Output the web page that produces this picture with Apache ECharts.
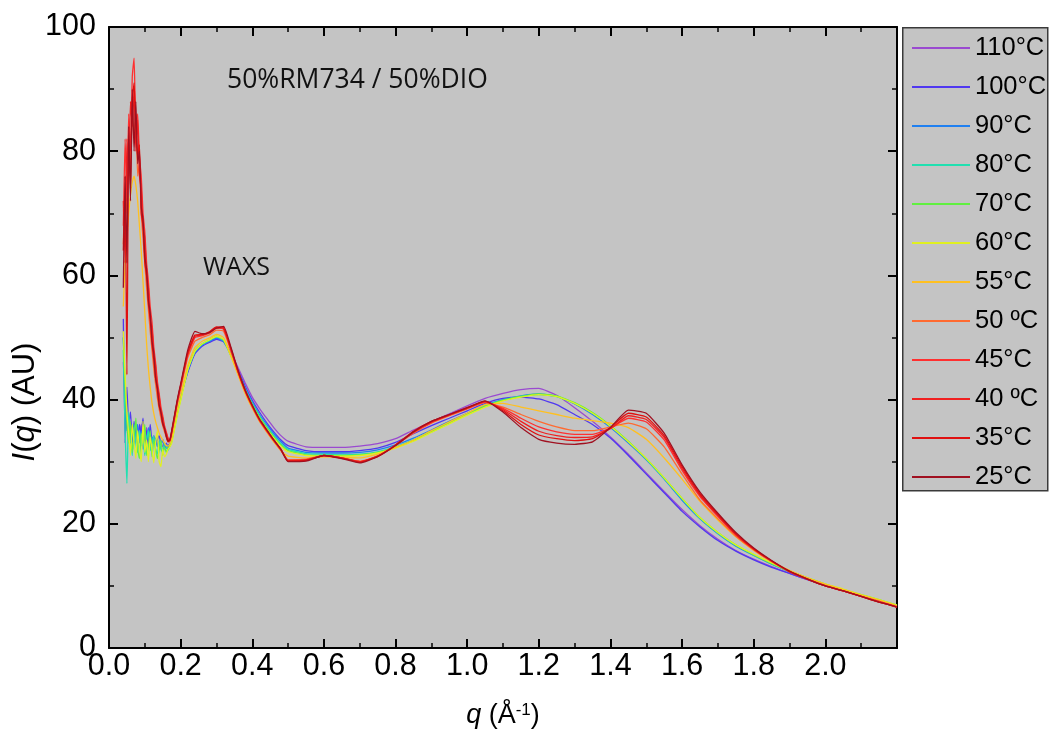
<!DOCTYPE html>
<html><head><meta charset="utf-8">
<script src="https://cdn.jsdelivr.net/npm/echarts@6/dist/echarts.min.js"></script>
<style>html,body{margin:0;padding:0;background:#fff}#c{width:1052px;height:738px}</style>
</head><body><div id="c"></div>
<script>
// q grid (Å^-1)
const Q = [0.040,0.045,0.050,0.055,0.060,0.065,0.070,0.075,0.080,0.085,0.090,0.095,0.100,0.105,0.110,0.115,0.120,0.125,0.130,0.135,0.140,0.145,0.150,0.155,0.160,0.165,0.170,0.175,0.180,0.185,0.190,0.195,0.200,
  0.22,0.24,0.26,0.28,0.30,0.32,0.34,0.36,0.38,0.40,0.42,0.44,0.46,0.48,0.50,
  0.55,0.60,0.65,0.70,0.75,0.80,0.85,0.90,0.95,1.00,1.05,1.10,1.15,1.20,1.25,1.30,1.35,1.40,1.45,1.50,1.55,1.60,1.65,1.70,1.75,1.80,1.85,1.90,1.95,2.00,2.05,2.10,2.15,2.20];

const TEMPS = ['110°C','100°C','90°C','80°C','70°C','60°C','55°C','50 ºC','45°C','40 ºC','35°C','25°C'];

const I110 = [46,40,37,35.5,36.5,34,35,33.5,35.5,34,36,33,34.5,35.5,33,34,33,34.2,33.5,33,32.6,33.2,32.4,32.8,32.2,32.5,33,34,35.4,36.8,38.2,39.5,40.8,
  44.6,47.6,48.8,49.3,49.8,49.5,47.6,45.2,42.7,40.4,38.6,37,35.5,34.2,33.3,
  32.4,32.3,32.3,32.5,32.9,33.7,35.1,36.4,37.7,39.0,40.2,41.0,41.6,41.8,40.7,38.7,36.5,34.0,31.2,28.2,25.2,22.3,19.7,17.5,15.7,14.3,13.1,12.0,11.0,10.1,9.3,8.4,7.6,6.8];
const I100 = [53,33,42,36,38,33,36.5,34,32,36,34.5,37,33,35,32.5,36,33.5,34,32.8,33.5,34.2,33,33.6,32.5,33,32.4,32.8,33.8,35.2,36.6,38,39.3,40.5,
  44.4,47.4,48.6,49.2,49.7,49.3,47.3,44.8,42.2,39.9,38,36.3,34.8,33.5,32.6,
  31.8,31.6,31.6,31.8,32.2,33.1,34.5,35.8,37,38.2,39.4,40.2,40.4,40.1,39.2,37.6,36,33.8,31.0,28.0,25.0,22.0,19.5,17.3,15.6,14.2,13.0,12.0,11.0,10.1,9.3,8.4,7.6,6.7];
const I90 = [50,40,35,37,33,35.5,32.5,34.5,36,33,35,32,34.8,33.5,35.5,32.6,34,33,33.8,32.4,33.4,32.7,33.5,32.4,32.2,32.6,32.9,33.6,35,36.5,37.9,39.2,40.4,
  44.6,47.6,48.8,49.4,49.9,49.4,47.2,44.6,41.9,39.6,37.6,36,34.5,33.2,32.2,
  31.5,31.4,31.4,31.5,31.9,32.7,33.8,35.1,36.5,37.8,39.1,40.0,40.6,40.9,40.5,39.3,37.6,35.5,33.0,30.3,27.2,23.8,20.8,18.4,16.4,14.9,13.5,12.3,11.2,10.2,9.4,8.5,7.7,6.8];
const I80 = [48,35,26.5,38,34,31,36,33,31.5,35,32.5,34,31,33.5,35,31.8,33,34.2,32,31.2,33.4,32,31.5,33,32.5,31.8,32.6,33.4,34.8,36.3,37.7,39,40.2,
  44.8,47.7,48.9,49.5,50.1,49.5,47.2,44.5,41.7,39.4,37.4,35.7,34.2,32.9,32.0,
  31.3,31.2,31.1,31.2,31.6,32.4,33.5,34.9,36.3,37.7,39.0,39.9,40.5,40.8,40.5,39.4,37.8,35.7,33.2,30.4,27.3,24.0,20.9,18.5,16.5,15.0,13.6,12.3,11.2,10.2,9.4,8.5,7.7,6.8];
const I70 = [50,42,36,33,36.5,31.5,34,37,32,30.5,34.5,33,36,31,32.5,35,30.8,33.5,32,30.5,31.8,33.5,31,32.4,31.5,32.2,32.5,33.2,34.6,36,37.5,38.8,40,
  45.0,47.9,49.0,49.6,50.2,49.6,47.1,44.4,41.6,39.2,37.2,35.5,34.0,32.7,31.8,
  31.1,31.0,31.0,31.1,31.5,32.3,33.4,34.8,36.2,37.6,38.9,39.9,40.5,40.9,40.6,39.5,37.9,35.8,33.3,30.5,27.4,24.1,21.0,18.6,16.6,15.0,13.6,12.4,11.3,10.3,9.4,8.6,7.8,6.9];
const I60 = [51,44,38,34.5,31,36,33,30.5,35,32,30,36.5,31.5,33.5,30,34,32,29.8,33,35,30,29.2,32,30.8,31.2,32,32.4,33,34.4,35.8,37.3,38.6,39.8,
  44.8,47.8,49.0,49.6,50.2,49.7,47.0,44.2,41.4,39.0,37.0,35.3,33.8,32.5,31.6,
  31.0,30.9,30.9,31.0,31.4,32.2,33.3,34.7,36.1,37.5,38.8,39.8,40.4,40.8,40.5,39.4,37.8,35.7,33.2,30.5,27.4,24.1,21.0,18.6,16.6,15.1,13.7,12.4,11.3,10.3,9.5,8.6,7.8,6.9];
const I55 = [55,62,66,70,73,75,76,74.5,72,68,64,59,54,49,45,42,39.5,37.8,36.5,35.5,34.6,34,33.5,33,32.6,32.5,32.9,33.8,35.3,36.8,38.3,39.6,40.8,
  45.5,48.4,49.4,49.9,50.5,50.0,47.2,44.0,41.0,38.6,36.5,34.8,33.2,31.8,30.9,
  30.6,30.8,30.7,30.6,31.2,32.3,33.5,35.0,36.4,37.8,39.2,39.4,38.8,38.2,37.6,37.0,36.6,36.2,35.5,33.6,30.6,27.2,23.6,20.6,17.9,15.7,13.9,12.5,11.3,10.3,9.4,8.5,7.7,6.8];
const I50 = [65,74,70,84,78,87,82,86,76,78,70,66,62,58,54.5,51,48,45,42.5,40.3,38.5,37,35.8,34.8,34,33.2,33.3,34.5,36,37.6,39.2,40.6,41.8,
  46.8,49.4,50.0,50.4,51.2,51.0,47.9,44.4,41.3,38.8,36.6,34.9,33.3,31.8,30.3,
  30.4,31.0,30.6,30.1,30.9,32.6,34.6,36.2,37.4,38.5,39.5,38.8,37.6,36.5,35.6,35.0,35.0,35.6,36.2,35.3,32.4,28.0,23.8,20.8,18.0,15.8,13.9,12.3,11.1,10.1,9.2,8.3,7.5,6.7];
const I45 = [68,82,72,86,80,92,95,84,86,79,76,70,67,62,59,55,52.5,48.5,46,43,41,38.8,37.4,35.8,34.8,33.8,33.4,34.6,36.1,37.7,39.3,40.7,42,
  47.2,50.0,50.3,50.7,51.5,51.3,48.1,44.5,41.4,38.9,36.7,35.0,33.4,31.9,30.2,
  30.3,31.0,30.6,30.0,30.8,32.6,34.7,36.3,37.5,38.6,39.6,38.6,37.0,35.6,34.8,34.4,34.4,35.4,37.0,36.4,33.5,28.6,24.4,21.2,18.2,15.9,14.0,12.3,11.1,10.0,9.2,8.3,7.5,6.6];
const I40 = [72,62,82,76,88,84,90,80,85,76,74,68,66,60,58,53,51.5,47.5,45.5,42,40.6,38,37,35.3,34.6,33.6,33.5,34.8,36.3,37.9,39.5,40.9,42.2,
  47.4,50.2,50.4,50.8,51.6,51.4,48.2,44.6,41.5,39.0,36.8,35.1,33.5,32.0,30.2,
  30.3,31.0,30.6,30.0,30.9,32.7,34.8,36.4,37.5,38.6,39.7,38.4,36.5,34.9,34.2,33.9,34.0,35.3,37.4,36.8,33.9,28.9,24.6,21.3,18.3,15.9,14.0,12.3,11.1,10.0,9.2,8.3,7.4,6.6];
const I35 = [64,76,44,82,74,88,91,84,79,81,70,68,62,60,55.5,53,49,46.5,43.5,41.5,39,37.8,36,35.2,34,33.2,33.4,34.8,36.4,38,39.6,41,42.3,
  47.6,50.4,50.5,50.9,51.7,51.6,48.3,44.6,41.5,39.0,36.8,35.1,33.5,32.0,30.1,
  30.2,31.0,30.6,29.9,30.9,32.7,34.9,36.5,37.6,38.7,39.7,38.2,36.0,34.3,33.7,33.4,33.7,35.5,37.8,37.2,34.2,29.2,24.8,21.5,18.4,16.0,14.0,12.3,11.1,10.0,9.2,8.3,7.4,6.6];
const I25 = [58,76,62,84,72,90,80,88,78,80,71,69,63,61,56,54,49.5,47.5,43.5,42,39.2,38,36.2,35.4,34.1,33.3,33.6,35,36.6,38.2,39.8,41.2,42.5,
  48.0,51.0,50.6,50.8,51.5,51.8,48.5,44.8,41.6,39.1,36.9,35.2,33.5,32.0,30.0,
  30.1,31.0,30.5,29.8,30.8,32.6,34.8,36.5,37.6,38.7,39.8,38.0,35.5,33.6,33.0,32.8,33.2,35.5,38.3,37.8,34.6,29.5,25.1,21.7,18.6,16.1,14.1,12.4,11.1,10.0,9.2,8.3,7.4,6.6];

const X_TICKS_MAX_LABEL = 2.0;

const SERIES_VALUES = [I110,I100,I90,I80,I70,I60,I55,I50,I45,I40,I35,I25];
const COLORS = ['#9a4ad0','#5038f0','#2080f0','#20e0b0','#60f040','#e0f020','#ffc020','#ff6a30','#ff3030','#f02020','#e01010','#a01020'];

const FONT = '"Liberation Sans", Arial, sans-serif';
const chart = echarts.init(document.getElementById('c'), null, {renderer: 'canvas'});

const series = SERIES_VALUES.map((vals, k) => ({
  name: TEMPS[k],
  type: 'line',
  xAxisIndex: 0, yAxisIndex: 0,
  data: Q.map((q, i) => [q, vals[i]]),
  showSymbol: false,
  symbol: 'none',
  smooth: 0.15,
  color: COLORS[k],
  lineStyle: {width: 1.3, color: COLORS[k]},
  emphasis: {disabled: true},
  z: 2 + k
}));

const gridL = 109, gridT = 27, gridR = 1052 - 897, gridB = 738 - 648;

const tickCommon = {
  axisLine: {show: true, onZero: false, lineStyle: {color: '#000', width: 2}},
  axisTick: {show: true, inside: true, length: 9, lineStyle: {color: '#000', width: 2}},
  minorTick: {show: true, splitNumber: 2, length: 5, lineStyle: {color: '#000', width: 1.5}},
  splitLine: {show: false}
};

chart.setOption({
  animation: false,
  backgroundColor: '#ffffff',
  grid: {left: gridL, top: gridT, right: gridR, bottom: gridB, show: true, backgroundColor: '#c4c4c4', borderWidth: 0},
  xAxis: [Object.assign({
    type: 'value', min: 0, max: 2.2, interval: 0.2, position: 'bottom',
    axisLabel: {color: '#000', fontSize: 30.5, fontFamily: FONT, margin: 3,
      formatter: v => v > X_TICKS_MAX_LABEL + 0.05 ? '' : v.toFixed(1)},
    name: '{i|q} (Å{s|-1})', nameLocation: 'middle', nameGap: 54,
    nameTextStyle: {color: '#000', fontSize: 27, fontFamily: FONT,
      rich: {i: {fontStyle: 'italic', fontSize: 27, fontFamily: FONT, color: '#000'},
             s: {fontSize: 17, fontFamily: FONT, verticalAlign: 'top', color: '#000'}}}
  }, tickCommon), Object.assign({
    type: 'value', min: 0, max: 2.2, interval: 0.2, position: 'top',
    axisLabel: {show: false}
  }, tickCommon)],
  yAxis: [Object.assign({
    type: 'value', min: 0, max: 100, interval: 20, position: 'left',
    axisLabel: {color: '#000', fontSize: 30.5, fontFamily: FONT, margin: 13}
  }, tickCommon), Object.assign({
    type: 'value', min: 0, max: 100, interval: 20, position: 'right',
    axisLabel: {show: false}
  }, tickCommon)],
  legend: {
    orient: 'vertical', left: 907, top: 30, itemWidth: 58, itemHeight: 2, itemGap: 13,
    icon: 'rect', itemStyle: {borderWidth: 0},
    textStyle: {color: '#000', fontSize: 25.5, fontFamily: FONT, lineHeight: 25},
    selectedMode: false,
    data: TEMPS
  },
  graphic: [
    {type: 'rect', left: 902, top: 27, z: 0, shape: {width: 145, height: 463},
     style: {fill: '#c4c4c4', stroke: '#3a3a3a', lineWidth: 1.5}},
    {type: 'text', x: 227, y: 80, z: 50,
     style: {text: '50%RM734 / 50%DIO', font: '26.5px "Open Sans", sans-serif', fill: '#111', verticalAlign: 'middle', align: 'left'}},
    {type: 'text', x: 203, y: 268, z: 50,
     style: {text: 'WAXS', font: '25px "Open Sans", sans-serif', fill: '#111', verticalAlign: 'middle', align: 'left'}},
    {type: 'text', x: 25, y: 402, rotation: Math.PI / 2, z: 50,
     style: {text: '{i|I}({i|q}) (AU)', align: 'center', verticalAlign: 'middle', fill: '#000',
       font: '31px ' + FONT,
       rich: {i: {fontStyle: 'italic', fontSize: 31, fontFamily: FONT, fill: '#000'}}}}
  ],
  series: series
});
</script></body></html>
